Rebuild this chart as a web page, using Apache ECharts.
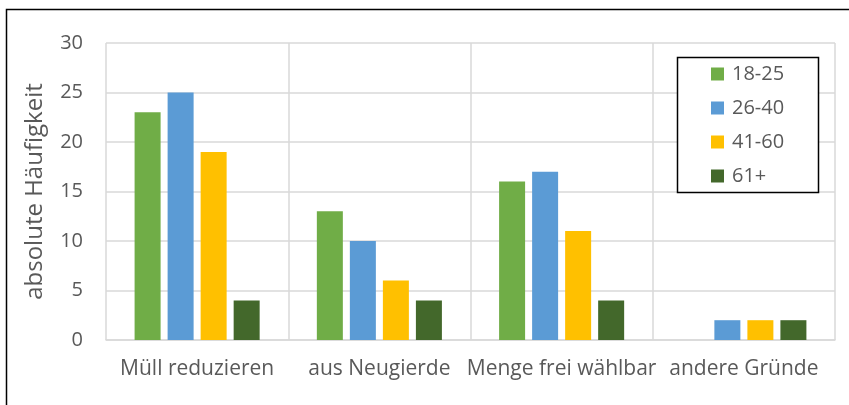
<!DOCTYPE html>
<html>
<head>
<meta charset="utf-8">
<script src="https://cdn.jsdelivr.net/npm/echarts@6/dist/echarts.min.js"></script>
<style>
  html, body { margin: 0; padding: 0; background: #fff; }
  #chart { width: 849px; height: 405px; }
</style>
</head>
<body>
<div id="chart"></div>
<script>
// data
var categories = ['Müll reduzieren', 'aus Neugierde', 'Menge frei wählbar', 'andere Gründe'];
var groups = ['18-25', '26-40', '41-60', '61+'];
var age18to25 = [23, 13, 16, 0];
var age26to40 = [25, 10, 17, 2];
var age41to60 = [19, 6, 11, 2];
var age61plus = [4, 4, 4, 2];
var yTicks = { min: 0, max: 30, step: 5 };

var colors = ['#70AD47', '#5B9BD5', '#FFC000', '#43682B'];
var textColor = '#595959';
var gridColor = '#d9d9d9';
var font = '"Open Sans", "Noto Sans", sans-serif';

var chart = echarts.init(document.getElementById('chart'));

function barSeries(name, data) {
    return {
        name: name,
        type: 'bar',
        data: data,
        barWidth: 26,
        barGap: '27%'
    };
}

var option = {
    backgroundColor: '#fff',
    animation: false,
    textStyle: { fontFamily: font },
    grid: { left: 106, right: 14, top: 43, bottom: 65 },
    graphic: [
        {   // outer frame of the chart area
            type: 'rect',
            shape: { x: 6.5, y: 9.5, width: 900, height: 500 },
            style: { fill: 'none', stroke: '#000', lineWidth: 1.5 },
            z: 5,
            silent: true
        },
        {   // legend box
            type: 'rect',
            shape: { x: 677.5, y: 57.5, width: 141, height: 135 },
            style: { fill: '#fff', stroke: '#000', lineWidth: 1.5 },
            z: 5,
            silent: true
        }
    ],
    legend: {
        orient: 'vertical',
        left: 711,
        top: 64,
        padding: 0,
        itemWidth: 13,
        itemHeight: 13,
        itemGap: 14,
        icon: 'rect',
        z: 10,
        data: groups,
        textStyle: {
            color: textColor,
            fontSize: 20,
            lineHeight: 20,
            fontFamily: font,
            padding: [0, 0, 0, 3]
        }
    },
    xAxis: {
        type: 'category',
        data: categories,
        axisTick: { show: false },
        axisLine: { lineStyle: { color: gridColor, width: 1.5 } },
        splitLine: { show: true, lineStyle: { color: gridColor, width: 1.5 } },
        axisLabel: {
            color: textColor,
            fontSize: 21,
            fontFamily: font,
            margin: 19,
            interval: 0
        }
    },
    yAxis: {
        type: 'value',
        min: yTicks.min,
        max: yTicks.max,
        interval: yTicks.step,
        name: 'absolute Häufigkeit',
        nameLocation: 'middle',
        nameGap: 59,
        nameTextStyle: { color: textColor, fontSize: 24, fontFamily: font },
        axisLine: { show: false },
        axisTick: { show: false },
        splitLine: { lineStyle: { color: gridColor, width: 1.5 } },
        axisLabel: { color: textColor, fontSize: 20, fontFamily: font, margin: 23 }
    },
    color: colors,
    series: [
        barSeries(groups[0], age18to25),
        barSeries(groups[1], age26to40),
        barSeries(groups[2], age41to60),
        barSeries(groups[3], age61plus)
    ]
};

chart.setOption(option);
</script>
</body>
</html>
